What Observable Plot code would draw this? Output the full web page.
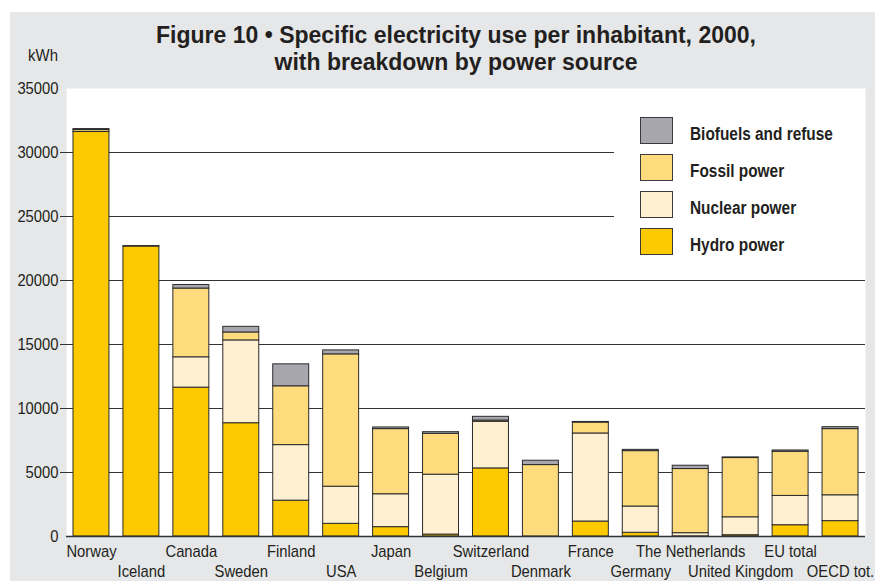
<!DOCTYPE html>
<html>
<head>
<meta charset="utf-8">
<script src="https://cdn.jsdelivr.net/npm/d3@7"></script>
<script src="https://cdn.jsdelivr.net/npm/@observablehq/plot@0.6"></script>
<style>
  body { margin: 0; background: #fff; }
  #page { position: relative; width: 875px; height: 581px; background: #fff; overflow: hidden;
          font-family: "Liberation Sans", Arial, sans-serif; color: #231f20; }
  #panel { position: absolute; left: 10px; top: 12px; width: 865px; height: 569px; background: #e6e7e8; }
  #title { position: absolute; left: 56px; width: 800px; top: 22px; text-align: center; font-weight: bold;
           font-size: 23px; line-height: 27px; }
  #unit { position: absolute; left: 0; width: 58px; text-align: right; top: 46px; font-size: 17px;
          transform: scaleX(0.88); transform-origin: 58px 0; }
  #chart { position: absolute; left: 0; top: 0; }
  #legend { position: absolute; left: 614px; top: 89px; width: 251px; height: 178px; background: #fff; }
  .item { position: absolute; left: 26px; height: 26px; }
  .sw { position: absolute; left: 0; top: 0; width: 31px; height: 25px; border: 1px solid #3a3a3a; }
  .lab { position: absolute; left: 50px; top: 7px; white-space: nowrap; font-weight: bold; font-size: 17.5px; line-height: 20px;
         transform: scaleX(0.88); transform-origin: 0 0; }
</style>
</head>
<body>
<div id="page">
  <div id="panel"></div>
  <div id="chart"></div>
  <div id="title">Figure 10 • Specific electricity use per inhabitant, 2000,<br>with breakdown by power source</div>
  <div id="unit">kWh</div>
  <div id="legend"></div>
</div>
<script>
const countries = ["Norway","Iceland","Canada","Sweden","Finland","USA","Japan","Belgium","Switzerland","Denmark","France","Germany","The Netherlands","United Kingdom","EU total","OECD tot."];
const hydro   = [31600,22650,11630,8850,2800,990,730,150,5320,0,1170,290,10,100,880,1200];
const nuclear = [0,0,2370,6470,4340,2900,2570,4680,3640,0,6880,2050,250,1400,2290,2020];
const fossil  = [150,40,5370,620,4595,10340,5090,3190,100,5580,850,4330,5010,4630,3450,5170];
const bio     = [80,0,280,440,1715,310,130,130,290,340,50,100,260,50,100,150];
const sources = ["Hydro power","Nuclear power","Fossil power","Biofuels and refuse"];
const colors  = ["#fdc900","#fff0d2","#fedb7d","#a7a6ae"];
const yTicks  = [0,5000,10000,15000,20000,25000,30000,35000];
const gridTicks = [5000,10000,15000,20000,25000,30000];
const legendOrder = ["Biofuels and refuse","Fossil power","Nuclear power","Hydro power"];

const series = [hydro, nuclear, fossil, bio];
const data = countries.flatMap((c, i) => sources.map((s, k) => ({country: c, source: s, value: series[k][i]})));

const font = '"Liberation Sans", Arial, sans-serif';
const chart = Plot.plot({
  width: 875, height: 581,
  marginTop: 88, marginBottom: 45, marginLeft: 66, marginRight: 10,
  style: {background: "transparent", fontFamily: font, fontSize: "17px", color: "#231f20"},
  x: {domain: countries, paddingInner: 0.28, paddingOuter: 0.14, round: false, axis: null},
  y: {domain: [0, 35000], axis: null},
  color: {domain: sources, range: colors},
  marks: [
    Plot.frame({fill: "white", stroke: null}),
    Plot.gridY(gridTicks, {stroke: "#333", strokeOpacity: 1, strokeWidth: 1}),
    Plot.axisY({ticks: yTicks, tickSize: 0, tickPadding: 8, tickFormat: d => String(d), label: null, fontSize: 17}),
    Plot.axisY({ticks: gridTicks, tickSize: 6, tickFormat: () => "", label: null, stroke: "#333"}),
    Plot.barY(data, {x: "country", y: "value", fill: "source", order: sources, stroke: "#2b2b2b", strokeWidth: 1}),
    Plot.ruleY([0], {stroke: "#333", strokeWidth: 1.5}),
    Plot.axisX({ticks: countries.filter((_, i) => i % 2 === 0), tickSize: 0, tickPadding: 8, label: null, fontSize: 17}),
    Plot.axisX({ticks: countries.filter((_, i) => i % 2 === 1), tickSize: 0, tickPadding: 28, label: null, fontSize: 17})
  ]
});
document.getElementById("chart").appendChild(chart);

// condensed look for tick labels (reference uses a condensed face)
chart.querySelectorAll('g[aria-label$="tick label"] text').forEach(t => {
  const tr = t.getAttribute("transform") || "";
  t.setAttribute("transform", tr + " scale(0.87,1)");
});

const legend = document.getElementById("legend");
legendOrder.forEach((s, j) => {
  const it = document.createElement("div");
  it.className = "item";
  it.style.top = (28 + j * 37) + "px";
  const sw = document.createElement("div");
  sw.className = "sw";
  sw.style.background = colors[sources.indexOf(s)];
  const lab = document.createElement("div");
  lab.className = "lab";
  lab.textContent = s;
  it.appendChild(sw); it.appendChild(lab);
  legend.appendChild(it);
});
</script>
</body>
</html>
